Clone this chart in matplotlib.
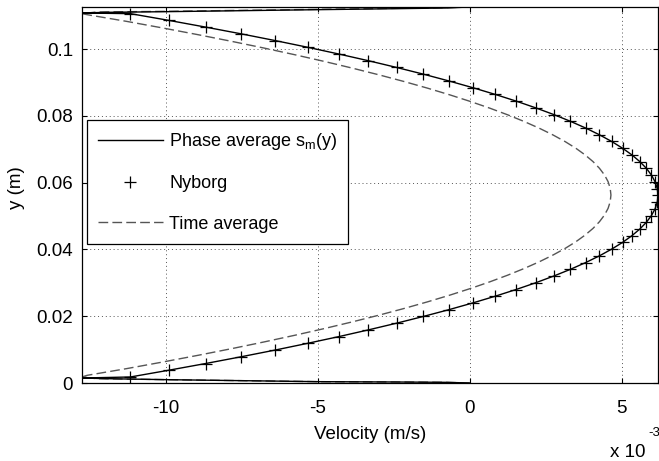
import matplotlib
matplotlib.use("Agg")
import matplotlib.pyplot as plt
from matplotlib.lines import Line2D

plt.rcParams['font.family'] = ['Liberation Sans', 'DejaVu Sans']
plt.rcParams['mathtext.fontset'] = 'custom'
plt.rcParams['mathtext.rm'] = 'Liberation Sans'
plt.rcParams['mathtext.it'] = 'Liberation Sans:italic'
plt.rcParams['axes.unicode_minus'] = False

# ---------------- data (velocity in units of 1e-3 m/s, y in m) ----------------
nyborg_y = [0.00180, 0.00382, 0.00583, 0.00785, 0.00986, 0.01188, 0.01389, 0.01591,
            0.01792, 0.01994, 0.02195, 0.02397, 0.02598, 0.02800, 0.03001, 0.03203,
            0.03404, 0.03606, 0.03807, 0.04009, 0.04210, 0.04412, 0.04613, 0.04815,
            0.05016, 0.05218, 0.05419, 0.05621, 0.05822, 0.06024, 0.06225, 0.06427,
            0.06628, 0.06830, 0.07031, 0.07233, 0.07434, 0.07636, 0.07837, 0.08039,
            0.08240, 0.08442, 0.08643, 0.08845, 0.09046, 0.09248, 0.09449, 0.09651,
            0.09852, 0.10054, 0.10255, 0.10457, 0.10658, 0.10860, 0.11061]
nyborg_x = [-11.179, -9.916, -8.700, -7.532, -6.411, -5.339, -4.313, -3.336,
            -2.406, -1.524, -0.690, 0.097, 0.836, 1.527, 2.171, 2.767,
            3.315, 3.816, 4.269, 4.674, 5.032, 5.342, 5.604, 5.819,
            5.985, 6.105, 6.176, 6.200, 6.176, 6.105, 5.985, 5.819,
            5.604, 5.342, 5.032, 4.674, 4.269, 3.816, 3.315, 2.767,
            2.171, 1.527, 0.836, 0.097, -0.690, -1.524, -2.406, -3.336,
            -4.313, -5.339, -6.411, -7.532, -8.700, -9.916, -11.179]

# phase average near-wall (boundary layer) parts
phase_bot_x = [0.0, -0.8, -2.4, -4.0, -5.0, -7.5, -10.0, -12.0, -12.77]
phase_bot_y = [0.0, 0.0002, 0.0003, 0.00036, 0.0004, 0.0007, 0.0010, 0.0013, 0.0015]
phase_top_x = [-12.77, -12.0, -10.0, -7.5, -5.0, -2.4, -0.8, 0.0]
phase_top_y = [0.1108, 0.1110, 0.1112, 0.1115, 0.1118, 0.1121, 0.1123, 0.1126]

# time average main branch
time_y = [0.0023, 0.0043, 0.0063, 0.0083, 0.0103, 0.0123, 0.0143, 0.0163, 0.0183,
          0.0203, 0.0223, 0.0243, 0.0263, 0.0283, 0.0303, 0.0323, 0.0343, 0.0363,
          0.0383, 0.0403, 0.0423, 0.0443, 0.0463, 0.0483, 0.0503, 0.0523, 0.0543,
          0.0563, 0.0583, 0.0603, 0.0623, 0.0643, 0.0663, 0.0683, 0.0703, 0.0723,
          0.0743, 0.0763, 0.0783, 0.0803, 0.0823, 0.0843, 0.0863, 0.0883, 0.0903,
          0.0923, 0.0943, 0.0963, 0.0983, 0.1003, 0.1023, 0.1043, 0.1063, 0.1083, 0.1103]
time_x = [-12.60, -11.304, -10.100, -8.944, -7.834, -6.772, -5.758, -4.790, -3.870,
          -2.996, -2.170, -1.392, -0.660, 0.024, 0.662, 1.252, 1.794, 2.290,
          2.738, 3.140, 3.494, 3.800, 4.060, 4.272, 4.438, 4.556, 4.626,
          4.650, 4.626, 4.556, 4.438, 4.272, 4.060, 3.800, 3.494, 3.140,
          2.738, 2.290, 1.794, 1.252, 0.662, 0.024, -0.660, -1.392, -2.170,
          -2.996, -3.870, -4.790, -5.758, -6.772, -7.834, -8.944, -10.100, -11.304, -12.60]
time_bot_x = [0.0, -0.8, -2.4, -5.0, -7.5, -10.0, -12.3, -12.77]
time_bot_y = [0.0, 0.0002, 0.0003, 0.0004, 0.0007, 0.0010, 0.0013, 0.0018]
time_top_x = [-12.77, -12.3, -10.0, -7.5, -5.0, -2.4, -0.8, 0.0]
time_top_y = [0.1106, 0.1111, 0.1113, 0.1116, 0.1119, 0.1122, 0.1124, 0.1126]

x_ticks = [-10, -5, 0, 5]
x_tick_labels = ['-10', '-5', '0', '5']
y_ticks = [0, 0.02, 0.04, 0.06, 0.08, 0.1]
y_tick_labels = ['0', '0.02', '0.04', '0.06', '0.08', '0.1']

# ---------------- figure ----------------
W, H = 659, 461
fig = plt.figure(figsize=(W / 100, H / 100), dpi=100)
L, R, T, B = 82, 658, 7, 383
ax = fig.add_axes([L / W, 1 - B / H, (R - L) / W, (B - T) / H])

phase_x = phase_bot_x + nyborg_x + phase_top_x
phase_y = phase_bot_y + nyborg_y + phase_top_y
tx = time_bot_x + time_x + time_top_x
ty = time_bot_y + time_y + time_top_y

ax.plot(phase_x, phase_y, color='k', lw=1.0, zorder=3)
ax.plot(nyborg_x, nyborg_y, ls='none', marker='+', ms=8, mew=0.9, color='k', zorder=4)
ax.plot(tx, ty, ls=(0, (7, 3)), color='#555555', lw=1.0, zorder=2)

ax.set_xlim(-12.77, 6.2)
ax.set_ylim(0, 0.1126)
ax.set_xticks(x_ticks)
ax.set_xticklabels(x_tick_labels)
ax.set_yticks(y_ticks)
ax.set_yticklabels(y_tick_labels)
ax.grid(True, ls=(0, (1, 3)), lw=0.7, color='#555555')
ax.set_axisbelow(True)
ax.tick_params(direction='in', length=3.6, width=0.8, top=True, right=True,
               labelsize=13.5, colors='k')
ax.tick_params(axis='x', pad=12)
ax.tick_params(axis='y', pad=6.5)
for s in ax.spines.values():
    s.set_linewidth(0.9)
    s.set_color('k')

handles = [Line2D([], [], color='k', lw=1.0),
           Line2D([], [], ls='none', marker='+', ms=8, mew=0.9, color='k'),
           Line2D([], [], ls=(0, (7, 3)), color='#555555', lw=1.0)]
labels = ['Phase average s$_\\mathrm{m}$(y)', 'Nyborg', 'Time average']
leg = ax.legend(handles, labels, loc='upper left',
                bbox_to_anchor=((87 - L) / (R - L), (B - 120) / (B - T)),
                borderaxespad=0, fontsize=13, handlelength=3.6, handletextpad=0.35,
                labelspacing=1.3, borderpad=0.6, fancybox=False, framealpha=1,
                edgecolor='k')
leg.get_frame().set_linewidth(0.9)

fig.text(370 / W, 1 - 434 / H, 'Velocity (m/s)', ha='center', va='center', fontsize=13.5)
fig.text(16.7 / W, 1 - 188 / H, 'y (m)', ha='center', va='center', rotation=90, fontsize=13.5)
fig.text(610 / W, 1 - 457 / H, 'x 10', ha='left', va='baseline', fontsize=13.5)
fig.text(648 / W, 1 - 436 / H, '-3', ha='left', va='baseline', fontsize=9.5)

fig.savefig('out.png', dpi=100)
